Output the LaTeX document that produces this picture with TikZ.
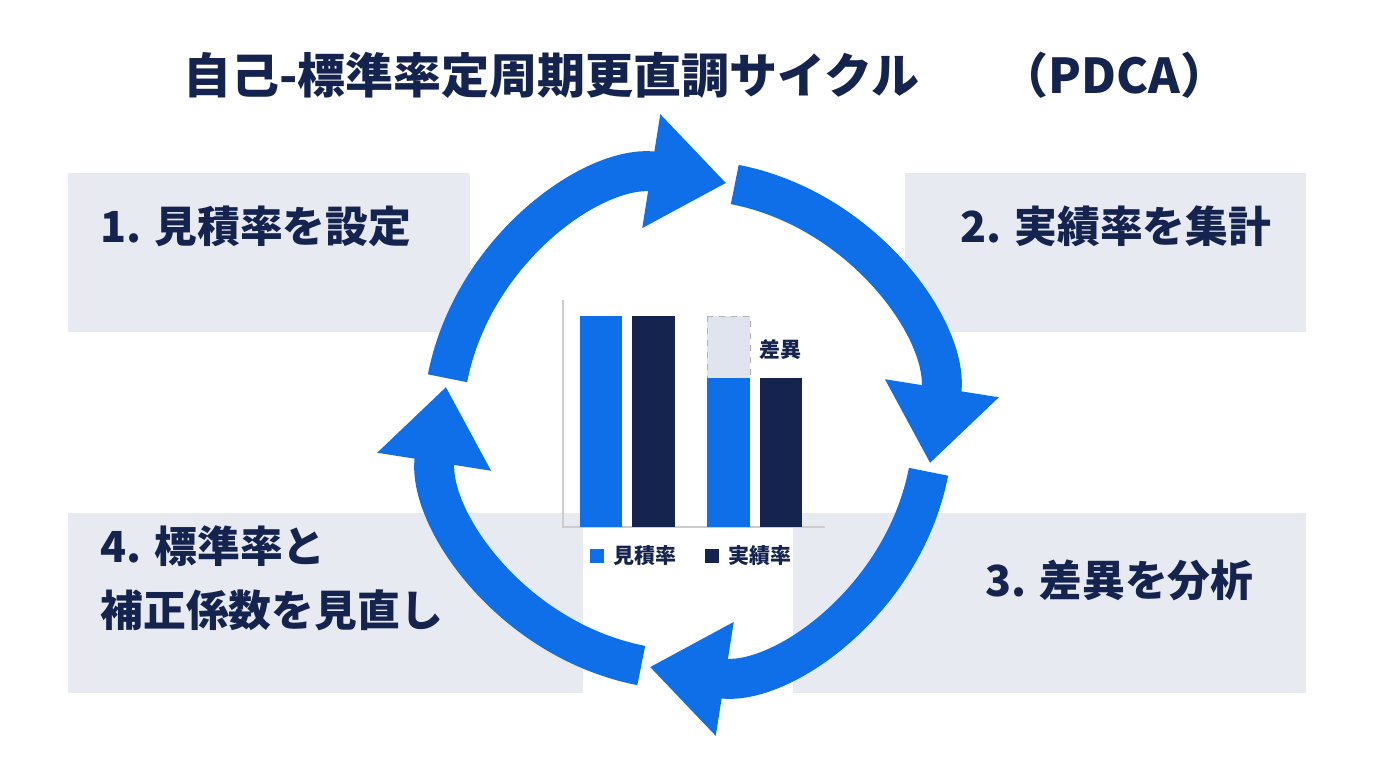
\documentclass[tikz,border=0pt]{standalone}
\usepackage{fontspec}
\setmainfont{Noto Sans CJK JP}
\usetikzlibrary{arrows.meta}
\definecolor{navy}{HTML}{15234F}
\definecolor{blu}{HTML}{0F6FE8}
\definecolor{boxc}{HTML}{E8EAF2}
\definecolor{gapc}{HTML}{DFE4EE}
\begin{document}
\begin{tikzpicture}[x=0.5pt,y=-0.5pt,
  box/.style={fill=boxc,draw=none},
  lbl/.style={text=navy,font=\bfseries\fontsize{21.4}{26}\selectfont,inner sep=0},
  seg/.style={draw=blu,line width=20pt,-{Triangle[width=55pt,length=38pt]}}]
\useasboundingbox[fill=white] (0,0) rectangle (1376,768);
\node[text=navy,font=\bfseries\fontsize{24}{28}\selectfont,anchor=west,inner sep=0] (t1) at (183,75) {自己-標準率定周期更直調サイクル};
\node[text=navy,font=\bfseries\fontsize{24}{28}\selectfont,anchor=west,inner sep=0] (t2) at (1000,75) {（PDCA）};
\path[box] (68,173) rectangle (470,332);
\path[box] (905,173) rectangle (1306,332);
\path[box] (68,513) rectangle (583,693);
\path[box] (793,513) rectangle (1306,693);
\node[lbl,anchor=west] (b1) at (100,226) {1. 見積率を設定};
\node[lbl,anchor=west] (b2) at (960,226) {2. 実績率を集計};
\node[lbl,anchor=west,align=left] (b4) at (100,578) {4. 標準率と\\[6pt]補正係数を見直し};
\node[lbl,anchor=west] (b3) at (985,580) {3. 差異を分析};
\coordinate (c) at (688,425);
\draw[seg] ([shift={(191:245)}]c) arc[start angle=191,end angle=279,radius=245];
\draw[seg] ([shift={(281:245)}]c) arc[start angle=281,end angle=369,radius=245];
\draw[seg] ([shift={(11:245)}]c) arc[start angle=11,end angle=99,radius=245];
\draw[seg] ([shift={(101:245)}]c) arc[start angle=101,end angle=189,radius=245];
% chart
\draw[gray!40,line width=0.6pt] (563,300) -- (563,527) -- (825,527);
\fill[blu] (580,316) rectangle (622,527);
\fill[navy] (632,316) rectangle (675,527);
\draw[gray!60,dashed,fill=gapc] (707,316) rectangle (750,378);
\fill[blu] (707,378) rectangle (750,527);
\fill[navy] (760,378) rectangle (802,527);
\node[text=navy,font=\bfseries\fontsize{10.5}{12}\selectfont] (d) at (780,350) {差異};
\fill[blu] (590,549) rectangle (604,563);
\node[text=navy,font=\bfseries\fontsize{10.5}{12}\selectfont,anchor=west] (l1) at (606,556) {見積率};
\fill[navy] (705,549) rectangle (719,563);
\node[text=navy,font=\bfseries\fontsize{10.5}{12}\selectfont,anchor=west] (l2) at (721,556) {実績率};
\end{tikzpicture}
\end{document}
